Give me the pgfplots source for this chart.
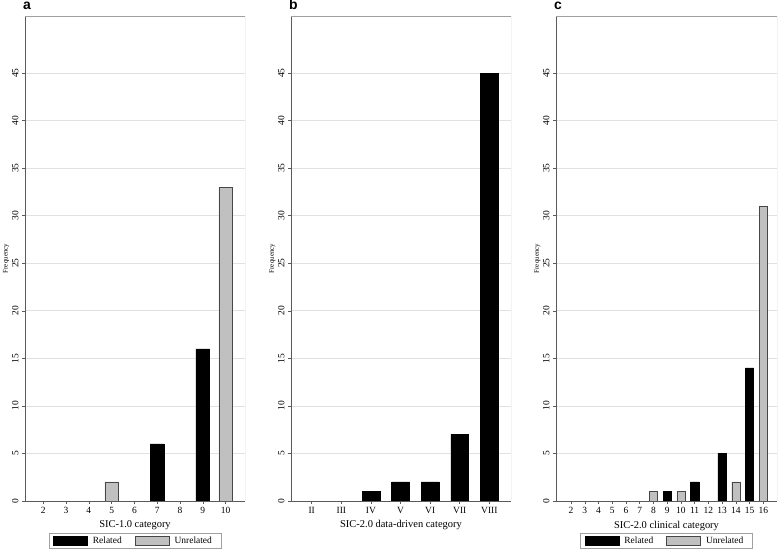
\documentclass[border=0pt]{standalone}
\usepackage{fontspec}
\setmainfont{Liberation Serif}
\newfontfamily\panelfont{Liberation Sans}
\usepackage{pgfplots}
\pgfplotsset{compat=1.18}

\definecolor{barGray}{RGB}{192,192,192}
\definecolor{edgeGray}{RGB}{70,70,70}
\definecolor{frameGray}{RGB}{160,160,160}
\definecolor{spineGray}{RGB}{90,90,90}
\definecolor{gridGray}{RGB}{225,225,225}

\pgfplotsset{
  ybar legend/.style={/pgfplots/legend image code/.code={%
    \draw[##1] (0bp,-4.5bp) rectangle (34bp,4.5bp);}},
  sicpanel/.style={
    scale only axis, width=220bp, height=485bp,
    axis lines=left, axis line style={-, spineGray, line width=0.9bp},
    ymin=0, ymax=51, ytick={0,5,...,45},
    ymajorgrids, grid style={gridGray, line width=0.7bp},
    tick align=outside, major tick length=3bp,
    tick style={spineGray, line width=0.6bp},
    /pgf/number format/assume math mode=true,
    ticklabel style={font=\fontsize{9.5}{10}\selectfont},
    yticklabel style={rotate=90, anchor=south},
    ylabel={Frequency}, ylabel shift=-4bp,
    ylabel style={font=\fontsize{7}{8}\selectfont},
    xlabel style={font=\fontsize{10.5}{11}\selectfont},
    title style={at={(0,1)}, anchor=south west, inner sep=0pt, xshift=-2bp,
      font=\panelfont\bfseries\fontsize{14}{14}\selectfont},
    ybar, bar width=0.6,
    legend columns=2,
    legend style={at={(0.5,-0.0658)}, anchor=north, draw=frameGray,
      line width=0.8bp, inner xsep=4bp, inner ysep=1.5bp,
      font=\fontsize{9.5}{10}\selectfont,
      nodes={inner xsep=5bp},
      /tikz/every even column/.append style={column sep=8bp}},
  },
  related/.style={fill=black, draw=black, bar shift=0pt},
  unrelated/.style={fill=barGray, draw=edgeGray, bar shift=0pt},
}

\begin{document}
\begin{tikzpicture}
\useasboundingbox (0,0) rectangle (778bp,551bp);

% a: SIC-1.0
\begin{axis}[sicpanel, at={(25bp,50bp)}, title={a},
  xmin=1.2, xmax=10.85, xtick={2,...,10},
  xlabel={SIC-1.0 category}]
  \addplot[related] coordinates {(7,6) (9,16)};
  \addplot[unrelated] coordinates {(5,2) (10,33)};
  \legend{Related, Unrelated}
  \draw[frameGray, line width=0.9bp] (rel axis cs:0,1) -- (rel axis cs:1,1) -- (rel axis cs:1,0);
\end{axis}

% b: SIC-2.0 data-driven
\begin{axis}[sicpanel, at={(291bp,50bp)}, title={b},
  xmin=-0.7, xmax=6.73, xtick={0,...,6},
  xticklabels={II,III,IV,V,VI,VII,VIII},
  xlabel={SIC-2.0 data-driven category}]
  \addplot[related] coordinates {(2,1) (3,2) (4,2) (5,7) (6,45)};
  \draw[frameGray, line width=0.9bp] (rel axis cs:0,1) -- (rel axis cs:1,1) -- (rel axis cs:1,0);
\end{axis}

% c: SIC-2.0 clinical
\begin{axis}[sicpanel, at={(556bp,50bp)}, width=221bp, title={c},
  xmin=0.9, xmax=17.0, xtick={2,...,16},
  xlabel={SIC-2.0 clinical category}]
  \addplot[related] coordinates {(9,1) (11,2) (13,5) (15,14)};
  \addplot[unrelated] coordinates {(8,1) (10,1) (14,2) (16,31)};
  \legend{Related, Unrelated}
  \draw[frameGray, line width=0.9bp] (rel axis cs:0,1) -- (rel axis cs:1,1) -- (rel axis cs:1,0);
\end{axis}
\end{tikzpicture}
\end{document}
